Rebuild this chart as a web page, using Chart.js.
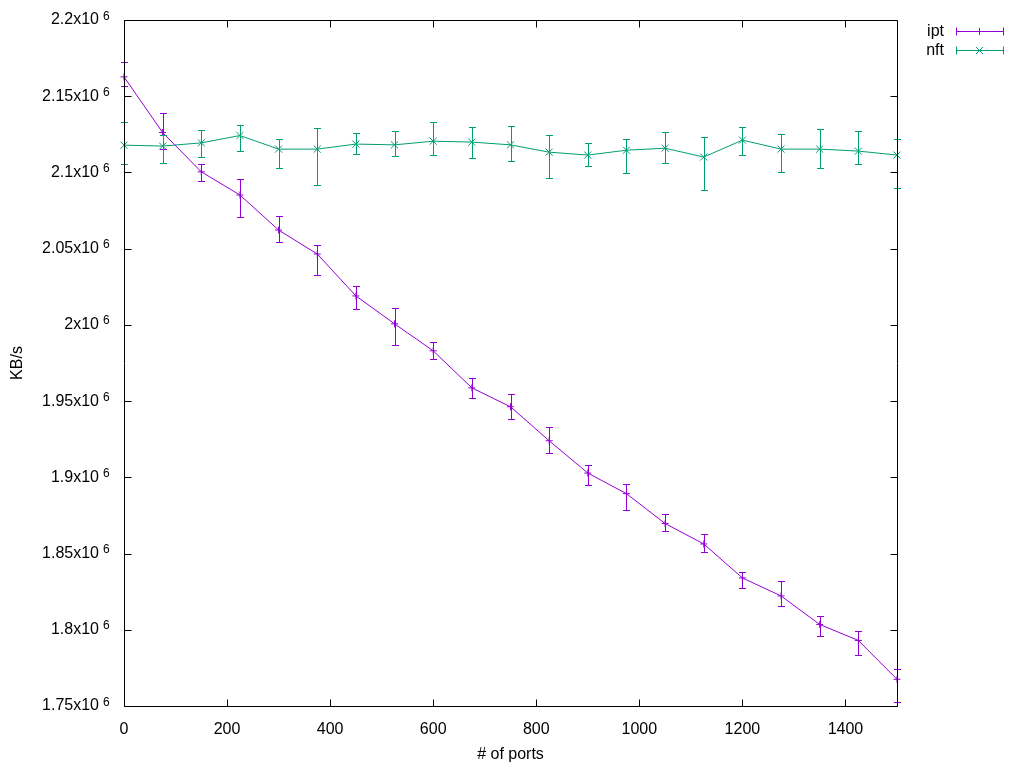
<!DOCTYPE html>
<html><head><meta charset="utf-8">
<script src="https://cdn.jsdelivr.net/npm/chart.js@4/dist/chart.umd.min.js"></script>
<style>html,body{margin:0;padding:0;background:#fff}canvas{display:block}</style>
</head><body>
<canvas id="c" width="1024" height="768"></canvas>
<script>
const ports = [0, 75, 150, 225, 300, 375, 450, 525, 600, 675, 750, 825, 900, 975, 1050, 1125, 1200, 1275, 1350, 1425, 1500];

const iptValues = [2162700, 2126200, 2100400, 2085200, 2062200, 2046500, 2019000, 2000700, 1983000, 1958700, 1946300,
                   1924000, 1902800, 1889300, 1869700, 1856300, 1834000, 1822200, 1803500, 1793000, 1767500];
const iptLow    = [2156800, 2115300, 2094500, 2071000, 2054600, 2033000, 2010500, 1986900, 1977700, 1952200, 1938400,
                   1916200, 1895200, 1878800, 1864600, 1850700, 1827700, 1815300, 1795700, 1783200, 1752400];
const iptHigh   = [2172700, 2139100, 2105500, 2095800, 2071400, 2052400, 2025300, 2011100, 1988600, 1965000, 1954800,
                   1932900, 1908100, 1895600, 1876200, 1863100, 1838200, 1831700, 1808800, 1799300, 1774400];

const nftValues = [2117900, 2117300, 2119400, 2124200, 2115300, 2115300, 2118600, 2118100, 2120500, 2119900, 2118100,
                   2113300, 2111400, 2114600, 2115900, 2110100, 2121200, 2115300, 2115300, 2114000, 2111400];
const nftLow    = [2105700, 2106100, 2110100, 2114200, 2103000, 2091700, 2112000, 2110700, 2111400, 2109400, 2107400,
                   2096300, 2104200, 2099800, 2106300, 2088400, 2111400, 2100400, 2102800, 2105500, 2089700];
const nftHigh   = [2133200, 2124700, 2127700, 2131000, 2121800, 2129000, 2125800, 2127100, 2133000, 2129700, 2130400,
                   2124500, 2119200, 2121800, 2126400, 2123200, 2129700, 2125100, 2128400, 2127100, 2121800];

const xTickValues = [0, 200, 400, 600, 800, 1000, 1200, 1400];
const yTickValues = [1750000, 1800000, 1850000, 1900000, 1950000, 2000000, 2050000, 2100000, 2150000, 2200000];
const yTickMantissas = ['1.75', '1.8', '1.85', '1.9', '1.95', '2', '2.05', '2.1', '2.15', '2.2'];
const yTickExponent = '6';
const seriesNames = ['ipt', 'nft'];
const seriesColors = ['#9400d3', '#009e73'];

const FONT = "'Liberation Sans', Arial, sans-serif";
const toXY = (vals) => ports.map((p, i) => ({x: p, y: vals[i]}));
const errLow = [iptLow, nftLow];
const errHigh = [iptHigh, nftHigh];

const gnuplotFrame = {
  id: 'gnuplotFrame',
  afterDatasetsDraw(chart) {
    const ctx = chart.ctx;
    const xs = chart.scales.x, ys = chart.scales.y;
    ctx.save();
    ctx.lineWidth = 1;
    chart.data.datasets.forEach((ds, di) => {
      ctx.strokeStyle = seriesColors[di];
      ctx.beginPath();
      ports.forEach((p, i) => {
        const x = Math.round(xs.getPixelForValue(p)) + 0.5;
        const yl = Math.round(ys.getPixelForValue(errLow[di][i])) + 0.5;
        const yh = Math.round(ys.getPixelForValue(errHigh[di][i])) + 0.5;
        ctx.moveTo(x, yl); ctx.lineTo(x, yh);
        ctx.moveTo(x - 3.5, yl); ctx.lineTo(x + 3.5, yl);
        ctx.moveTo(x - 3.5, yh); ctx.lineTo(x + 3.5, yh);
      });
      ctx.stroke();
    });
    ctx.restore();
  },
  afterDraw(chart) {
    const ctx = chart.ctx;
    const a = chart.chartArea;
    const xs = chart.scales.x, ys = chart.scales.y;
    const L = Math.round(a.left) + 0.5, R = Math.round(a.right) + 0.5;
    const T = Math.round(a.top) + 0.5, B = Math.round(a.bottom) + 0.5;
    ctx.save();
    ctx.strokeStyle = '#000';
    ctx.lineWidth = 1;
    ctx.beginPath();
    ctx.rect(L, T, R - L, B - T);
    const tl = 7;
    xTickValues.forEach(v => {
      const x = Math.round(xs.getPixelForValue(v)) + 0.5;
      ctx.moveTo(x, B); ctx.lineTo(x, B - tl);
      ctx.moveTo(x, T); ctx.lineTo(x, T + tl);
    });
    yTickValues.forEach(v => {
      const y = Math.round(ys.getPixelForValue(v)) + 0.5;
      ctx.moveTo(L, y); ctx.lineTo(L + tl, y);
      ctx.moveTo(R, y); ctx.lineTo(R - tl, y);
    });
    ctx.stroke();
    ctx.fillStyle = '#000';
    ctx.font = '12px ' + FONT;
    ctx.textAlign = 'left';
    ctx.textBaseline = 'alphabetic';
    yTickValues.forEach(v => {
      const y = ys.getPixelForValue(v);
      ctx.fillText(yTickExponent, a.left - 21, y - 0.5);
    });
    ctx.font = '16px ' + FONT;
    ctx.textAlign = 'right';
    ctx.textBaseline = 'middle';
    seriesNames.forEach((name, i) => {
      const y = Math.round(30.5 + i * 19) + 0.5;
      ctx.fillStyle = '#000';
      ctx.fillText(name, 944, y);
      ctx.strokeStyle = seriesColors[i];
      ctx.beginPath();
      ctx.moveTo(956.5, y); ctx.lineTo(1003.5, y);
      ctx.moveTo(956.5, y - 4); ctx.lineTo(956.5, y + 4);
      ctx.moveTo(1003.5, y - 4); ctx.lineTo(1003.5, y + 4);
      ctx.stroke();
      const ds = chart.data.datasets[i];
      Chart.helpers.drawPoint(ctx, {pointStyle: ds.pointStyle, radius: ds.pointRadius, rotation: 0, borderWidth: 1}, 979.5, y);
    });
    ctx.restore();
  }
};

new Chart(document.getElementById('c'), {
  type: 'line',
  data: {
    datasets: [
      {label: seriesNames[0], data: toXY(iptValues), borderColor: seriesColors[0], backgroundColor: seriesColors[0],
       borderWidth: 1, pointStyle: 'cross', pointRadius: 3.5, pointBorderWidth: 1, tension: 0, clip: false},
      {label: seriesNames[1], data: toXY(nftValues), borderColor: seriesColors[1], backgroundColor: seriesColors[1],
       borderWidth: 1, pointStyle: 'crossRot', pointRadius: 5, pointBorderWidth: 1, tension: 0, clip: false}
    ]
  },
  options: {
    responsive: false,
    animation: false,
    events: [],
    layout: {padding: {left: 0, right: 127, top: 20, bottom: 0}},
    plugins: {legend: {display: false}, tooltip: {enabled: false}},
    scales: {
      x: {
        type: 'linear', min: 0, max: 1500,
        afterBuildTicks: (s) => { s.ticks = xTickValues.map(v => ({value: v})); },
        afterFit: (s) => { s.height = 62; s.paddingLeft = 0; s.paddingRight = 0; },
        grid: {display: false}, border: {display: false},
        ticks: {color: '#000', font: {family: FONT, size: 16}, padding: 6, maxRotation: 0, autoSkip: false,
                callback: (v) => String(v)},
        title: {display: true, text: '# of ports', color: '#000', font: {family: FONT, size: 16},
                padding: {top: 0, bottom: 4}}
      },
      y: {
        type: 'linear', min: 1750000, max: 2200000,
        afterBuildTicks: (s) => { s.ticks = yTickValues.map(v => ({value: v})); },
        afterFit: (s) => { s.width = 124; s.paddingTop = 0; s.paddingBottom = 0; },
        grid: {display: false}, border: {display: false},
        ticks: {color: '#000', font: {family: FONT, size: 16}, padding: 17, autoSkip: false,
                callback: (v) => yTickMantissas[yTickValues.indexOf(v)] + 'x10'},
        title: {display: true, text: 'KB/s', color: '#000', font: {family: FONT, size: 16},
                padding: {top: 8, bottom: 0}}
      }
    }
  },
  plugins: [gnuplotFrame]
});
</script>
</body></html>
